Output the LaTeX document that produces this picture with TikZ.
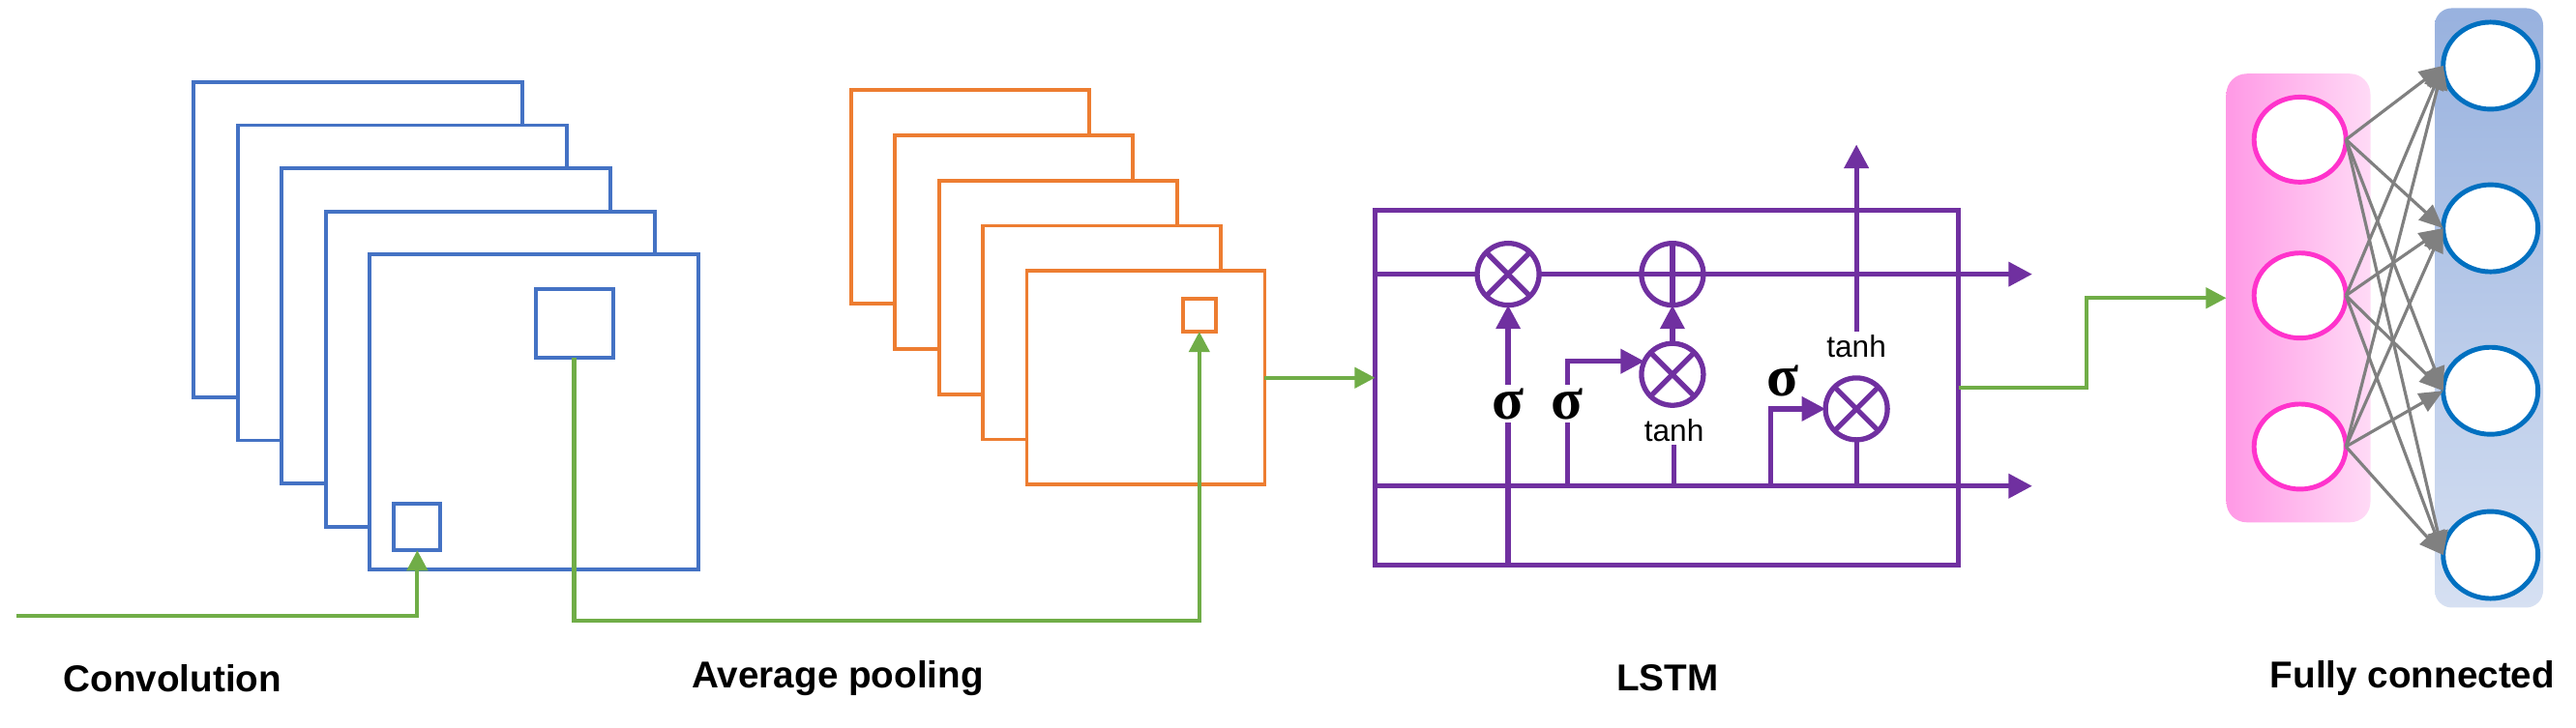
\documentclass[tikz,border=0pt]{standalone}
\usepackage{amsmath}
\usepackage{fontspec}
\setmainfont{Liberation Sans}
\newfontfamily\sigmafont{Liberation Serif}
\usetikzlibrary{shapes.geometric,positioning,arrows.meta}
\definecolor{convblue}{HTML}{4472C4}
\definecolor{poolorange}{HTML}{ED7D31}
\definecolor{lstmpurple}{HTML}{7030A0}
\definecolor{flowgreen}{HTML}{70AD47}
\definecolor{inpink}{HTML}{FF33CC}
\definecolor{outblue}{HTML}{0070C0}
\begin{document}
\begin{tikzpicture}[x=0.01698cm,y=-0.01698cm,every node/.style={outer sep=0pt},
    convframe/.style={draw=convblue,line width=1.1pt,fill=white,anchor=north west,
    minimum width=3.40cm,minimum height=3.26cm},
    poolframe/.style={draw=poolorange,line width=1.1pt,fill=white,anchor=north west,
    minimum width=2.46cm,minimum height=2.21cm},
    flow/.style={draw=flowgreen,line width=1.2pt,-{Triangle[length=6pt,width=6pt]}},
    cell/.style={draw=lstmpurple,line width=1.5pt},
    tip/.style={-{Triangle[length=7pt,width=7pt]}},
    gate/.style={circle,draw=lstmpurple,line width=1.5pt,minimum size=0.64cm,inner sep=0pt},
    sig/.style={inner sep=1pt,font=\sigmafont\bfseries\LARGE},
    act/.style={inner sep=1pt,font=\small},
    title/.style={font=\fontsize{11}{13}\selectfont\bfseries},
    neuron/.style={ellipse,line width=1.4pt,fill=white,inner sep=0pt}]
   \useasboundingbox (0,0) rectangle (1568,443);

   % convolution
   \foreach \i in {0,...,4}
     \node[convframe] (c\i) at (118+26.75*\i,50+26.25*\i) {};
   \node[draw=convblue,line width=1.1pt,minimum width=0.80cm,minimum height=0.71cm] (bigsq) at (349.5,197) {};
   \node[draw=convblue,line width=1.1pt,minimum size=0.48cm] (smallsq) at (254,321) {};

   % pooling
   \foreach \i in {0,...,4}
     \node[poolframe] (p\i) at (518+26.75*\i,55+27.5*\i) {};
   \node[draw=poolorange,line width=1.1pt,minimum size=0.34cm] (poolsq) at (730,192) {};

   % lstm cell
   \node[cell,minimum width=6.03cm,minimum height=3.67cm] (lstm) at (1014.5,236) {};
   \coordinate (uin) at (837,167);
   \coordinate (uout) at (1237,167);
   \coordinate (lin) at (837,296);
   \coordinate (lout) at (1237,296);
   \node[gate] (m1) at (918,167) {};
   \node[gate] (pl) at (1018,167) {};
   \node[gate] (m2) at (1018,228) {};
   \node[gate] (m3) at (1130,249) {};
   \foreach \g in {m1,m2,m3}
   {
    \draw[cell] (\g.north west) -- (\g.south east);
    \draw[cell] (\g.north east) -- (\g.south west);
   }
   \draw[cell] (pl.north) -- (pl.south);
   \draw[cell] (pl.west) -- (pl.east);
   \node[sig] (s1) at (918,246) {σ};
   \node[sig] (s2) at (954,246) {σ};
   \node[sig] (s3) at (1085,232) {σ};
   \node[act] (t1) at (1019,262) {tanh};
   \node[act] (t2) at (1130,211) {tanh};
   \coordinate (hout) at (1130,88);

   \draw[cell] (uin) -- (m1.west);
   \draw[cell] (m1.east) -- (pl.west);
   \draw[cell,tip] (pl.east) -- (uout);
   \draw[cell,tip] (lin) -- (lout);
   \draw[cell,tip] (s1.north) -- (m1.south);
   \draw[cell] (s1.south) -- (s1.south|-lstm.south);
   \draw[cell] (s2.south) -- (s2.south|-lin);
   \draw[cell,tip] (s2.north) |- (m2.155);
   \draw[cell] (t1.south) -- (t1.south|-lin);
   \draw[cell,tip] (m2.north) -- (pl.south);
   \draw[cell,tip] (1078,296) |- (m3.west);
   \draw[cell] (m3.south) -- (m3.south|-lin);
   \draw[cell,tip] (t2.north) -- (hout);

   % fully connected
   \node[rounded corners=6pt,left color=inpink!50,right color=inpink!18,
     minimum width=1.49cm,minimum height=4.64cm] (inlayer) at (1399,181.5) {};
   \node[rounded corners=5pt,top color=convblue!55,bottom color=convblue!22,
     minimum width=1.12cm,minimum height=6.2cm] (outlayer) at (1515,187.5) {};
   \foreach \y [count=\k] in {85,180,272}
     \node[neuron,draw=inpink,minimum width=0.95cm,minimum height=0.88cm] (i\k) at (1400,\y) {};
   \foreach \y [count=\k] in {40,139,238,338}
     \node[neuron,draw=outblue,minimum width=0.98cm,minimum height=0.9cm] (o\k) at (1516,\y) {};
   \foreach \a in {1,2,3}
     \foreach \b in {1,...,4}
       \draw[gray,line width=0.9pt,-{Triangle[length=7pt,width=6pt]}] (i\a.east) -- (o\b.west);

   % data flow
   \coordinate (start) at (10,375);
   \draw[flow] (start) -| (smallsq.south);
   \draw[flow] (bigsq.south) -- ++(0,160) -| (poolsq.south);
   \draw[flow] (p4.east) -- (p4.east-|lstm.west);
   \draw[flow] (lstm.east) -- ++(78,0) |- (inlayer.west);

   % titles
   \node[title] (tconv) at (105,413) {Convolution};
   \node[title] (tpool) at (510,413) {Average pooling};
   \node[title] (tlstm) at (1015,413) {LSTM};
   \node[title,anchor=east] (tfc) at (1562,413) {Fully connected};
\end{tikzpicture}
\end{document}
